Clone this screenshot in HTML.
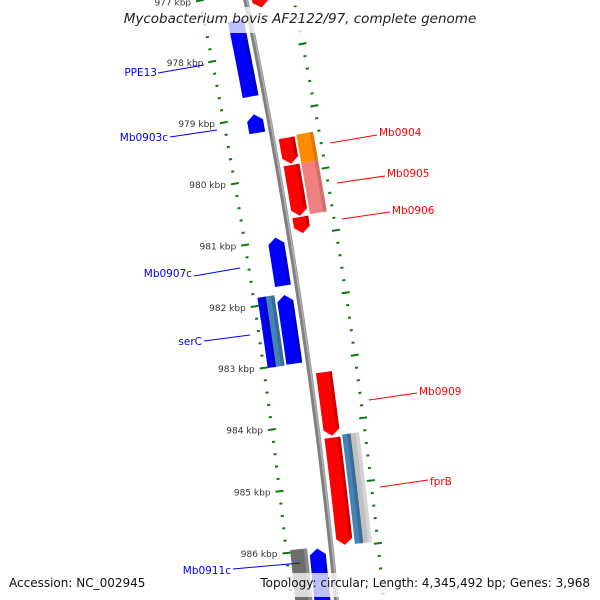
<!DOCTYPE html>
<html><head><meta charset="utf-8"><style>
html,body{margin:0;padding:0;background:#fff;overflow:hidden;width:600px;height:600px}
svg{display:block}
.t{font-family:"DejaVu Sans","Liberation Sans",sans-serif}
</style></head><body>
<svg id="map" width="600" height="600" viewBox="0 0 600 600" xmlns="http://www.w3.org/2000/svg">
<g id="ticks"></g>
<g id="backbone"></g>
<g id="genes"></g>
<g id="labels">
 <line x1="158" y1="73" x2="204" y2="65" stroke="#0000ff"/>
 <text class="t" x="157" y="76" text-anchor="end" font-size="10.5" fill="#0000ff">PPE13</text>
 <line x1="170" y1="137" x2="217" y2="130" stroke="#0000ff"/>
 <text class="t" x="168" y="141" text-anchor="end" font-size="10.5" fill="#0000ff">Mb0903c</text>
 <line x1="330" y1="143" x2="377" y2="135" stroke="#ff0000"/>
 <text class="t" x="379" y="136" font-size="10.5" fill="#ff0000">Mb0904</text>
 <line x1="337" y1="183" x2="385" y2="176" stroke="#ff0000"/>
 <text class="t" x="387" y="177" font-size="10.5" fill="#ff0000">Mb0905</text>
 <line x1="342" y1="219" x2="390" y2="212" stroke="#ff0000"/>
 <text class="t" x="392" y="214" font-size="10.5" fill="#ff0000">Mb0906</text>
 <line x1="194" y1="276" x2="240" y2="268" stroke="#0000ff"/>
 <text class="t" x="192" y="277" text-anchor="end" font-size="10.5" fill="#0000ff">Mb0907c</text>
 <line x1="204" y1="341" x2="250" y2="335" stroke="#0000ff"/>
 <text class="t" x="202" y="345" text-anchor="end" font-size="10.5" fill="#0000ff">serC</text>
 <line x1="369" y1="400" x2="417" y2="393" stroke="#ff0000"/>
 <text class="t" x="419" y="395" font-size="10.5" fill="#ff0000">Mb0909</text>
 <line x1="380" y1="487" x2="428" y2="480" stroke="#ff0000"/>
 <text class="t" x="430" y="485" font-size="10.5" fill="#ff0000">fprB</text>
 <line x1="233" y1="569" x2="300" y2="563" stroke="#0000ff"/>
 <text class="t" x="231" y="574" text-anchor="end" font-size="10.5" fill="#0000ff">Mb0911c</text>
</g>
<rect x="112" y="7" width="376" height="26" fill="#fff" opacity="0.75"/>
<text class="t" x="300" y="23" text-anchor="middle" font-size="13.5" font-style="italic" fill="#222">Mycobacterium bovis AF2122/97, complete genome</text>
<rect x="5" y="573" width="140" height="24" fill="#fff" opacity="0.75"/>
<rect x="255" y="573" width="340" height="24" fill="#fff" opacity="0.75"/>
<text class="t" x="9" y="587" font-size="12" fill="#111">Accession: NC_002945</text>
<text class="t" x="590" y="587" text-anchor="end" font-size="12" fill="#111">Topology: circular; Length: 4,345,492 bp; Genes: 3,968</text>
</svg>
<script>
// data
const geneNames = ["prev", "PPE13", "Mb0903c", "Mb0904", "Mb0904-cog", "Mb0905", "Mb0905-cog", "Mb0906", "Mb0907c", "serC-cog", "serC", "Mb0909", "fprB", "fprB-cog", "Mb0911c-cog", "Mb0911c"];
const geneStarts = [976.5, 977.43, 978.96, 979.42, 979.40, 979.86, 979.86, 980.70, 980.96, 981.87, 981.89, 983.20, 984.25, 984.22, 985.96, 985.98];
const geneEnds   = [977.31, 978.67, 979.26, 979.84, 979.86, 980.68, 980.68, 980.96, 981.74, 983.01, 983.00, 984.22, 985.97, 985.97, 987.2, 987.2];
const geneTracks = ["f1", "r1", "r1", "f1", "f2", "f1", "f2", "f1", "r1", "r2", "r1", "f1", "f1", "f2", "r2", "r1"];
const geneArrows = [1, 0, 1, 1, 0, 1, 0, 1, 1, 0, 1, 1, 1, 0, 0, 1];
const geneColors = ["#ff0000", "#0000ff", "#0000ff", "#ff0000", "#ff8c00", "#ff0000", "#f08080", "#ff0000", "#0000ff", "split-blue", "#0000ff", "#ff0000", "#ff0000", "split-steel", "#6e6e6e", "#0000ff"];
const tickStartKb = 976;
const tickEndKb = 988;
const tickLabelKb = [977, 978, 979, 980, 981, 982, 983, 984, 985, 986, 987];

// geometry
const CX = -5337, CY = 1150, RB = 5700;
const A0 = -0.1937, APK = 0.010992;
const trackR = {f1: [6, 22], f2: [24, 41], r1: [-22, -6], r2: [-41, -24]};
function ang(kb) { return A0 + (kb - 978) * APK; }
function pt(kb, r) { const a = ang(kb); return [CX + r * Math.cos(a), CY + r * Math.sin(a)]; }
const NS = "http://www.w3.org/2000/svg";
function mk(tag, attrs, parent) {
  const e = document.createElementNS(NS, tag);
  for (const k in attrs) e.setAttribute(k, attrs[k]);
  parent.appendChild(e); return e;
}
function arcPts(k0, k1, r, n) {
  const out = [];
  for (let i = 0; i <= n; i++) out.push(pt(k0 + (k1 - k0) * i / n, r));
  return out;
}
function polyStr(p) { return p.map(q => q[0].toFixed(2) + "," + q[1].toFixed(2)).join(" "); }

// backbone
const bb = document.getElementById("backbone");
const bbPath = "M" + polyStr(arcPts(976.8, 987.2, RB, 40)).replace(/ /g, " L");
const b1 = mk("path", {d: bbPath, fill: "none", stroke: "#808080", "stroke-width": 5}, bb);


const bbPath2 = "M" + polyStr(arcPts(976.8, 987.2, RB + 1.2, 40)).replace(/ /g, " L");
const b2 = mk("path", {d: bbPath2, fill: "none", stroke: "#b0b0b0", "stroke-width": 1.6}, bb);



// ticks
const tg = document.getElementById("ticks");
const RL = RB - 45, RR = RB + 47;
for (let i = 0; i <= (tickEndKb - tickStartKb) * 5; i++) {
  const kb = tickStartKb + i * 0.2;
  const major = Math.abs(kb - Math.round(kb)) < 1e-6;
  const len = major ? 8 : 3;
  [RL, RR].forEach((R) => {
    const p0 = pt(kb, R - len / 2), p1 = pt(kb, R + len / 2);
    const ln = mk("line", {x1: p0[0], y1: p0[1], x2: p1[0], y2: p1[1], stroke: "#0a7a0a", "stroke-width": 2}, tg);
    
    
  });
}
tickLabelKb.forEach(kb => {
  const p = pt(kb, RL - 9);
  const t = mk("text", {x: p[0], y: p[1] + 3, "text-anchor": "end", "font-size": 9, fill: "#333", "class": "t"}, tg);
  t.textContent = kb + " kbp";
  
  
});

// genes
const gg = document.getElementById("genes");
function shade(c) {
  const m = {"#ff0000": "#b30000", "#0000ff": "#0000a8", "#ff8c00": "#c86a00", "#f08080": "#c06060", "#6e6e6e": "#9a9a9a", "#4682b4": "#2f5f86", "#c0c0c0": "#e2e2e2"};
  return m[c] || c;
}
function drawBox(k0, k1, r0, r1, arrow, dir, color, name) {
  const AL = 0.1;
  let pts;
  const n = 6;
  if (!arrow) {
    pts = arcPts(k0, k1, r0, n).concat(arcPts(k1, k0, r1, n));
  } else if (dir > 0) {
    const kb = Math.max(k0, k1 - AL);
    pts = arcPts(k0, kb, r0, n).concat([pt(k1, (r0 + r1) / 2)]).concat(arcPts(kb, k0, r1, n));
  } else {
    const kb = Math.min(k1, k0 + AL);
    pts = [pt(k0, (r0 + r1) / 2)].concat(arcPts(kb, k1, r0, n)).concat(arcPts(k1, kb, r1, n));
  }
  const pg = mk("polygon", {points: polyStr(pts), fill: color}, gg);
  
  
  const rs = Math.max(r0, r1) - 3.5, re = Math.max(r0, r1);
  let sk0 = k0, sk1 = k1;
  if (arrow && dir > 0) sk1 = k1 - 0.1; if (arrow && dir < 0) sk0 = k0 + 0.1;
  const sp = arcPts(sk0, sk1, rs, n).concat(arcPts(sk1, sk0, re, n));
  const st = mk("polygon", {points: polyStr(sp), fill: shade(color), opacity: 0.6}, gg);
  
  
}
for (let i = 0; i < geneNames.length; i++) {
  const tr = trackR[geneTracks[i]];
  const r0 = RB + tr[0], r1 = RB + tr[1];
  const dir = geneTracks[i][0] === "f" ? 1 : -1;
  const c = geneColors[i];
  const nm = "gene-" + geneNames[i].toLowerCase();
  if (c === "split-blue") {
    const mid = (r0 + r1) / 2;
    drawBox(geneStarts[i], geneEnds[i], r0, mid, 0, dir, "#0000ff", nm + "-outer");
    drawBox(geneStarts[i], geneEnds[i], mid, r1, 0, dir, "#4682b4", nm + "-inner");
  } else if (c === "split-steel") {
    const mid = (r0 + r1) / 2;
    drawBox(geneStarts[i], geneEnds[i], r0, mid, 0, dir, "#4682b4", nm + "-inner");
    drawBox(geneStarts[i], geneEnds[i], mid, r1, 0, dir, "#c0c0c0", nm + "-outer");
  } else {
    drawBox(geneStarts[i], geneEnds[i], r0, r1, geneArrows[i], dir, c, nm);
  }
}
</script>
</body></html>
